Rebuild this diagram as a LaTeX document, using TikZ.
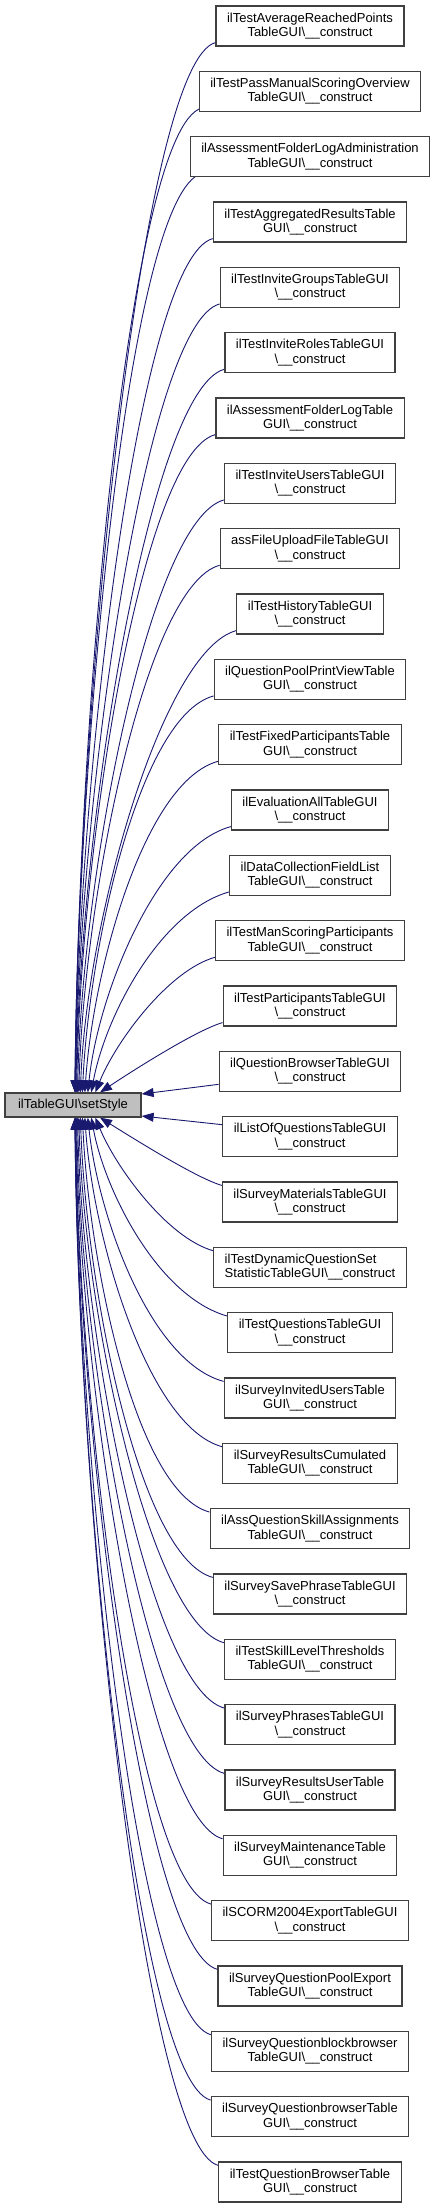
\documentclass[tikz,border=0pt]{standalone}
\usepackage{fontspec}
\setmainfont{Liberation Sans}
\usetikzlibrary{arrows.meta,calc,backgrounds}
\definecolor{edgeblue}{HTML}{191970}
\definecolor{boxgray}{HTML}{404040}
\definecolor{fillgray}{HTML}{BFBFBF}
\newcommand{\cons}{\textbackslash\_\_construct}
\begin{document}
\begin{tikzpicture}[x=1pt,y=-1pt,
  box/.style={draw=boxgray,line width=1.2pt,fill=white,align=center,inner xsep=11pt,inner ysep=3pt,minimum height=40pt,font=\fontsize{13}{14.4}\selectfont},
  mainbox/.style={draw=boxgray,line width=1.2pt,fill=fillgray,inner xsep=12pt,inner ysep=3pt,minimum height=24pt,minimum width=136pt,font=\fontsize{13}{14.4}\selectfont},
  edge/.style={draw=edgeblue,line width=0.9pt,-{Triangle[length=12pt,width=9pt,fill=edgeblue]}}]
\useasboundingbox (0,0) rectangle (436,2208);
\node[mainbox] (L) at (73,1105) {ilTableGUI\textbackslash setStyle};
\foreach \i/\t in {
 0/{ilTestAverageReachedPoints\\TableGUI\cons},
 1/{ilTestPassManualScoringOverview\\TableGUI\cons},
 2/{ilAssessmentFolderLogAdministration\\TableGUI\cons},
 3/{ilTestAggregatedResultsTable\\GUI\cons},
 4/{ilTestInviteGroupsTableGUI\\\cons},
 5/{ilTestInviteRolesTableGUI\\\cons},
 6/{ilAssessmentFolderLogTable\\GUI\cons},
 7/{ilTestInviteUsersTableGUI\\\cons},
 8/{assFileUploadFileTableGUI\\\cons},
 9/{ilTestHistoryTableGUI\\\cons},
 10/{ilQuestionPoolPrintViewTable\\GUI\cons},
 11/{ilTestFixedParticipantsTable\\GUI\cons},
 12/{ilEvaluationAllTableGUI\\\cons},
 13/{ilDataCollectionFieldList\\TableGUI\cons},
 14/{ilTestManScoringParticipants\\TableGUI\cons},
 15/{ilTestParticipantsTableGUI\\\cons},
 16/{ilQuestionBrowserTableGUI\\\cons},
 17/{ilListOfQuestionsTableGUI\\\cons},
 18/{ilSurveyMaterialsTableGUI\\\cons},
 20/{ilTestQuestionsTableGUI\\\cons},
 21/{ilSurveyInvitedUsersTable\\GUI\cons},
 22/{ilSurveyResultsCumulated\\TableGUI\cons},
 23/{ilAssQuestionSkillAssignments\\TableGUI\cons},
 24/{ilSurveySavePhraseTableGUI\\\cons},
 25/{ilTestSkillLevelThresholds\\TableGUI\cons},
 26/{ilSurveyPhrasesTableGUI\\\cons},
 27/{ilSurveyResultsUserTable\\GUI\cons},
 28/{ilSurveyMaintenanceTable\\GUI\cons},
 29/{ilSCORM2004ExportTableGUI\\\cons},
 30/{ilSurveyQuestionPoolExport\\TableGUI\cons},
 31/{ilSurveyQuestionblockbrowser\\TableGUI\cons},
 32/{ilSurveyQuestionbrowserTable\\GUI\cons},
 33/{ilTestQuestionBrowserTable\\GUI\cons}}
 {\node[box] (b\i) at (310,{26+65.333*\i}) {\t};}
\node[box,align=left] (b19) at (310,{26+65.333*19}) {ilTestDynamicQuestionSet\\StatisticTableGUI\cons};
\begin{pgfonlayer}{background}
\foreach \i in {0,...,15}{
 \draw[edge] let \p1=(b\i.south west), \p2=(L.north),
   \n1={max(\x1,202pt)}, \n2={\y1+4pt},
   \n3={(75+25*(\i/15)^3)*1pt}, \n4={\n2-\y2},
   \n5={min(74pt,0.35*\n4)}, \n6={min(20pt,0.1*\n4)},
   \n7={2720/\n4*1pt}
   in (\n1,\n2) .. controls (\n1-\n5,\n2-\n6) and (\n3+\n7,\y2+0.37*\n4) .. (\n3,\y2);
}
\foreach \i in {18,...,33}{
 \draw[edge] let \p1=(b\i.north west), \p2=(L.south),
   \n1={max(\x1,202pt)}, \n2={\y1-4pt},
   \n3={(75+25*((33-\i)/15)^3)*1pt}, \n4={\y2-\n2},
   \n5={min(74pt,0.35*\n4)}, \n6={min(20pt,0.1*\n4)},
   \n7={2720/\n4*1pt}
   in (\n1,\n2) .. controls (\n1-\n5,\n2+\n6) and (\n3+\n7,\y2-0.37*\n4) .. (\n3,\y2);
}
\draw[edge] ($(b16.west)+(0,13)$) -- ($(L.east)+(0,-11)$);
\draw[edge] ($(b17.west)+(0,-12)$) -- ($(L.east)+(0,11)$);
\end{pgfonlayer}
\end{tikzpicture}
\end{document}
